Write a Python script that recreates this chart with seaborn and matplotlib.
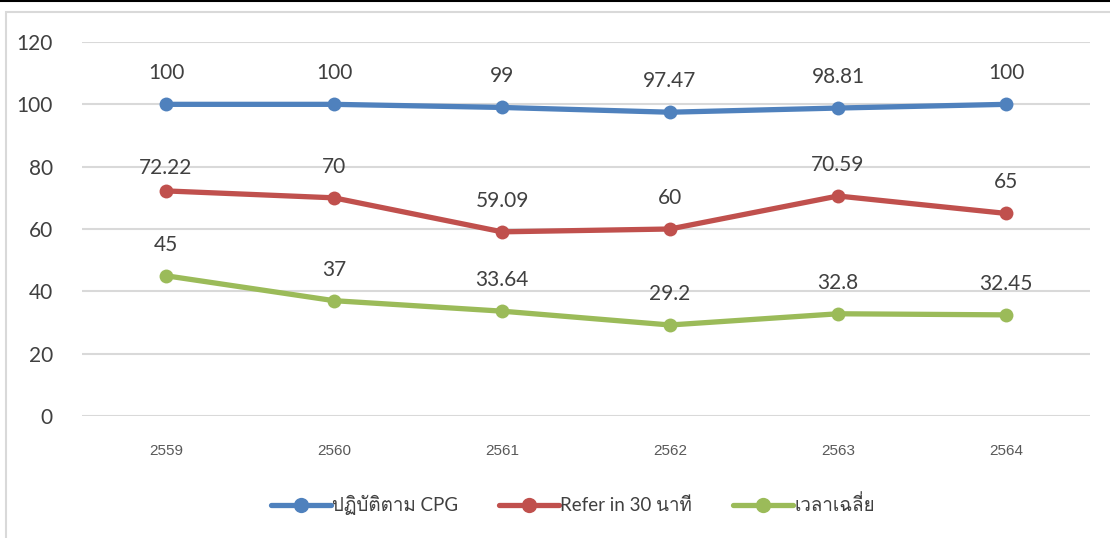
import numpy as np
import pandas as pd
import matplotlib
matplotlib.use('Agg')
import matplotlib.pyplot as plt
from matplotlib import font_manager
from matplotlib.ft2font import FT2Font
from matplotlib.patches import Rectangle
from matplotlib.lines import Line2D
import seaborn as sns

years = ['2559', '2560', '2561', '2562', '2563', '2564']
series_names = ['ปฏิบัติตาม CPG', 'Refer in 30 นาที', 'เวลาเฉลี่ย']
cpg = [100, 100, 99, 97.47, 98.81, 100]
refer30 = [72.22, 70, 59.09, 60, 70.59, 65]
avg_time = [45, 37, 33.64, 29.2, 32.8, 32.45]
value_labels = [
    ['100', '100', '99', '97.47', '98.81', '100'],
    ['72.22', '70', '59.09', '60', '70.59', '65'],
    ['45', '37', '33.64', '29.2', '32.8', '32.45'],
]
yticks = [0, 20, 40, 60, 80, 100, 120]

colors = ['#4F81BD', '#C0504D', '#9BBB59']


def find_thai_font():
    # look for any installed font that covers Thai glyphs
    for f in font_manager.fontManager.ttflist:
        try:
            cmap = FT2Font(f.fname).get_charmap()
        except Exception:
            continue
        if 0x0E1B in cmap and 0x0E35 in cmap:
            return f.name
    return None


sns.set_theme(style='white')
thai = find_thai_font()
families = ['Lato', 'DejaVu Sans']
if thai:
    families = ['Lato', thai, 'DejaVu Sans']
plt.rcParams['font.family'] = families

df = pd.DataFrame({
    'year': years * 3,
    'value': cpg + refer30 + avg_time,
    'series': [series_names[0]] * 6 + [series_names[1]] * 6 + [series_names[2]] * 6,
})

fig = plt.figure(figsize=(11.1, 5.38), dpi=100)
ax = fig.add_axes([82 / 1110, 1 - 416 / 538, 1008 / 1110, 374 / 538])

sns.lineplot(data=df, x='year', y='value', hue='series', palette=colors,
             marker='o', markersize=10, markeredgewidth=0, linewidth=3.8,
             sort=False, legend=False, ax=ax)

# data labels above each point
for i, vals in enumerate([cpg, refer30, avg_time]):
    for j, v in enumerate(vals):
        off = 23 if (i == 1 and j == 0) else 31
        ax.annotate(value_labels[i][j], (j, v), xytext=(0, off),
                    textcoords='offset pixels', ha='center', va='center',
                    fontsize=15, color='#404040')

ax.set_xlim(-0.5, 5.5)
ax.set_ylim(0, 120)
ax.set_yticks(yticks)
ax.set_yticklabels([str(t) for t in yticks], fontsize=15, color='#404040')
ax.tick_params(axis='y', length=0, pad=21)
ax.set_xticks(range(len(years)))
ax.set_xticklabels(years, family=['Liberation Sans', 'DejaVu Sans'],
                   fontsize=11, color='#595959')
ax.tick_params(axis='x', length=0, pad=20)
ax.set_xlabel('')
ax.set_ylabel('')
ax.grid(axis='y', color='#D9D9D9', linewidth=1.5)
ax.set_axisbelow(True)
for s in ax.spines.values():
    s.set_visible(False)

handles = [Line2D([0], [0], color=c, linewidth=3.8, marker='o', markersize=11,
                  markeredgewidth=0) for c in colors]
fig.legend(handles, series_names, loc='center', bbox_to_anchor=(573 / 1110, 1 - 505 / 538),
           ncol=3, frameon=False, fontsize=13.5, handlelength=3.2, handletextpad=0.05,
           columnspacing=2.2, labelcolor='#404040')

# chart border and top rule
fig.patches.append(Rectangle((6 / 1110, -0.01), 1.1, 1 - 12 / 538 + 0.01,
                             transform=fig.transFigure, fill=False,
                             edgecolor='#D9D9D9', linewidth=1.5))
fig.add_artist(Line2D([0, 1], [1 - 1 / 538, 1 - 1 / 538], transform=fig.transFigure,
                      color='black', linewidth=1.5))

fig.savefig('out.png', dpi=100)
